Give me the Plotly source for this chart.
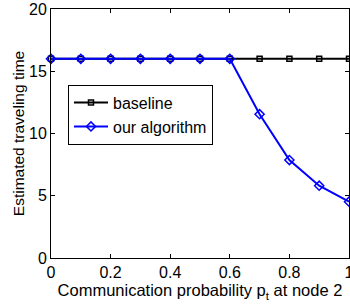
import plotly.graph_objects as go

p = [0, 0.1, 0.2, 0.3, 0.4, 0.5, 0.6, 0.7, 0.8, 0.9, 1.0]
baseline = [16, 16, 16, 16, 16, 16, 16, 16, 16, 16, 16]
ours = [16, 16, 16, 16, 16, 16, 16, 11.55, 7.87, 5.81, 4.52]
xticks = [0, 0.2, 0.4, 0.6, 0.8, 1]
xticklabels = ["0", "0.2", "0.4", "0.6", "0.8", "1"]
yticks = [0, 5, 10, 15, 20]

FONT = "Liberation Sans, Arial"

fig = go.Figure()
fig.add_trace(go.Scatter(x=p, y=baseline, name="baseline", mode="lines+markers", cliponaxis=False,
                         line=dict(color="black", width=2),
                         marker=dict(symbol="square-open", size=5, color="black", line=dict(width=1.5))))
fig.add_trace(go.Scatter(x=p, y=ours, name="our algorithm", mode="lines+markers", cliponaxis=False,
                         line=dict(color="#0000ff", width=2),
                         marker=dict(symbol="diamond-open", size=7, color="#0000ff", line=dict(width=1.5))))

axis_common = dict(showgrid=False, zeroline=False, showline=True, linecolor="black", linewidth=1,
                   mirror="ticks", ticks="inside", ticklen=4, tickcolor="black", automargin=False,
                   ticklabeloverflow="allow",
                   tickfont=dict(family=FONT, size=16, color="black"))
fig.update_xaxes(range=[0, 1], tickvals=xticks, ticktext=xticklabels,
                 title=dict(text="Communication probability p<sub>t</sub> at node 2", standoff=0,
                            font=dict(family=FONT, size=16.5, color="black")),
                 **axis_common)
fig.update_yaxes(range=[0, 20], tickvals=yticks,
                 title=dict(text="Estimated traveling time", standoff=0,
                            font=dict(family=FONT, size=15.5, color="black")),
                 **axis_common)
fig.update_layout(width=350, height=305, margin=dict(l=51, r=1, t=9, b=47),
                  plot_bgcolor="white", paper_bgcolor="white",
                  legend=dict(x=0.057, y=0.696, xanchor="left", yanchor="top",
                              bordercolor="black", borderwidth=1, bgcolor="white",
                              font=dict(family=FONT, size=16, color="black"),
                              tracegroupgap=0, itemwidth=34))
fig.write_html("out.html", config={"displayModeBar": False},
               post_script="document.body.style.margin='0';document.body.style.overflow='hidden';")
